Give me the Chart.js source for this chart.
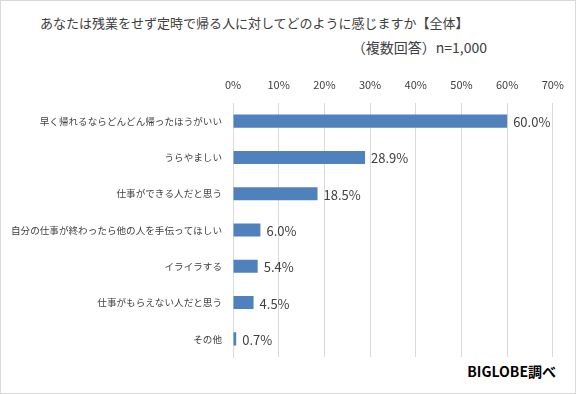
<!DOCTYPE html>
<html><head><meta charset="utf-8">
<script src="https://cdn.jsdelivr.net/npm/chart.js@4"></script>
<style>
html,body{margin:0;padding:0;background:#fff;}
#wrap{position:relative;width:576px;height:394px;box-sizing:border-box;border:1px solid #d9d9d9;overflow:hidden;}
canvas{position:absolute;left:-1px;top:-1px;}
.t{position:absolute;font-family:"Noto Sans CJK JP","Noto Sans",sans-serif;color:#404040;white-space:nowrap;}
</style></head><body>
<div id="wrap">
<div class="t" id="title" style="left:39px;top:12px;font-size:13px;">あなたは残業をせず定時で帰る人に対してどのように感じますか【全体】</div>
<div class="t" id="sub" style="right:88px;top:36px;font-size:14px;">（複数回答）n=1,000</div>
<div class="t" id="src" style="right:19px;top:360px;font-size:14px;font-weight:bold;color:#000;">BIGLOBE調べ</div>
<canvas id="c" width="576" height="394"></canvas>
</div>
<script>
const categories = ["早く帰れるならどんどん帰ったほうがいい","うらやましい","仕事ができる人だと思う","自分の仕事が終わったら他の人を手伝ってほしい","イライラする","仕事がもらえない人だと思う","その他"];
const values = [60.0, 28.9, 18.5, 6.0, 5.4, 4.5, 0.7];
const tickValues = [0,10,20,30,40,50,60,70];

const labelPlugin = {
  id:'valLabels',
  afterDatasetsDraw(chart){
    const ctx = chart.ctx;
    const meta = chart.getDatasetMeta(0);
    ctx.save();
    ctx.font = '13px "Noto Sans CJK JP", "Noto Sans", sans-serif';
    ctx.fillStyle = '#404040';
    ctx.textBaseline = 'middle';
    ctx.textAlign = 'left';
    meta.data.forEach((bar,i)=>{
      ctx.fillText(values[i].toFixed(1)+'%', bar.x+6, bar.y+1);
    });
    ctx.restore();
  }
};

new Chart(document.getElementById('c'),{
  type:'bar',
  data:{labels:categories,datasets:[{data:values,backgroundColor:'#4f81bd',barPercentage:0.36,categoryPercentage:1}]},
  options:{
    indexAxis:'y',responsive:false,animation:false,
    layout:{padding:{left:0,right:23,top:72,bottom:37}},
    plugins:{legend:{display:false},tooltip:{enabled:false}},
    scales:{
      x:{position:'top',min:0,max:70,
        afterBuildTicks(s){s.ticks=tickValues.map(v=>({value:v}));},
        afterFit(s){s.height=31;},
        grid:{color:'#d9d9d9',drawTicks:false},
        border:{display:false},
        ticks:{padding:12,color:'#404040',font:{family:'"Noto Sans CJK JP", "Noto Sans", sans-serif',size:11},callback:v=>v+'%'}
      },
      y:{
        afterFit(s){s.width=233;},
        grid:{display:false,drawTicks:false},
        border:{display:true,color:'#d9d9d9'},
        ticks:{padding:11,color:'#404040',font:{family:'"Noto Sans CJK JP", "Noto Sans", sans-serif',size:9.6}}
      }
    }
  },
  plugins:[labelPlugin]
});
</script>
</body></html>
